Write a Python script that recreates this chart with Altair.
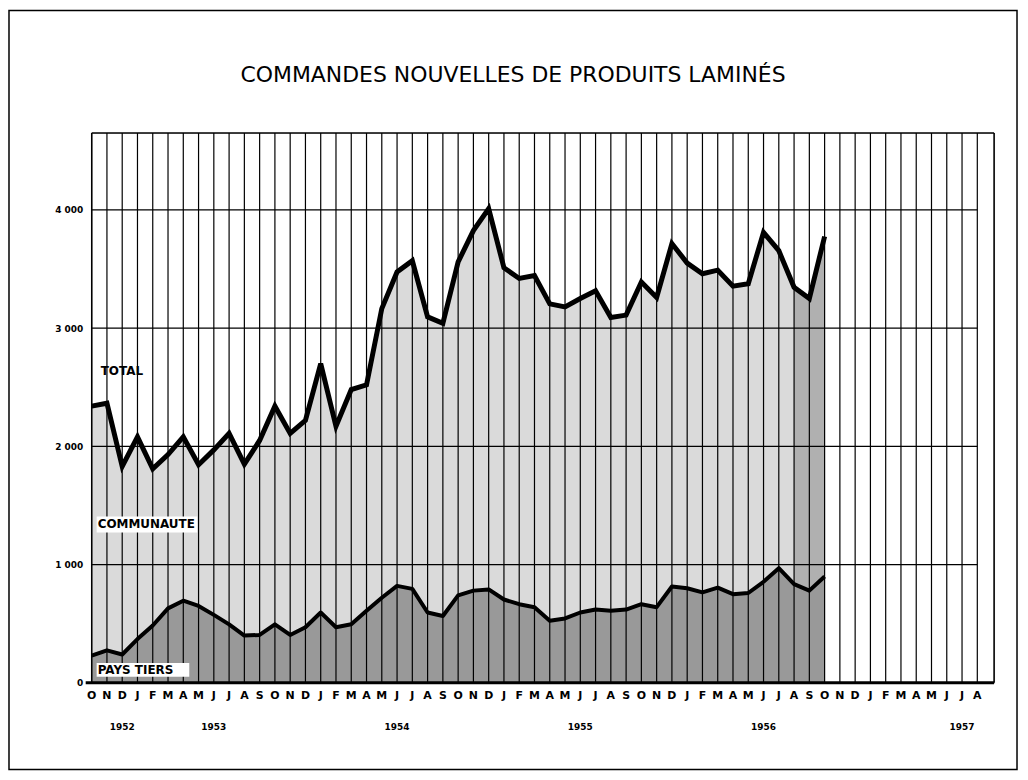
import altair as alt
import pandas as pd

# ---- data (thousands of tonnes) ----
MONTH_LETTERS = ["O", "N", "D",
                 "J", "F", "M", "A", "M", "J", "J", "A", "S", "O", "N", "D",
                 "J", "F", "M", "A", "M", "J", "J", "A", "S", "O", "N", "D",
                 "J", "F", "M", "A", "M", "J", "J", "A", "S", "O", "N", "D",
                 "J", "F", "M", "A", "M", "J", "J", "A", "S", "O", "N", "D",
                 "J", "F", "M", "A", "M", "J", "J", "A"]

TOTAL = [2340, 2365, 1830, 2080, 1810, 1930, 2080, 1845, 1970, 2110,
         1850, 2050, 2340, 2110, 2220, 2700, 2170, 2480, 2520, 3165,
         3475, 3570, 3095, 3040, 3560, 3825, 4010, 3510, 3420, 3445,
         3205, 3180, 3250, 3315, 3090, 3110, 3390, 3260, 3715, 3550,
         3460, 3490, 3355, 3375, 3810, 3655, 3345, 3250, 3775]

PAYS_TIERS = [230, 275, 240, 370, 485, 630, 695, 650, 575, 495,
              400, 405, 495, 405, 470, 595, 470, 495, 610, 720,
              820, 795, 595, 565, 740, 780, 790, 705, 665, 640,
              525, 545, 595, 620, 610, 620, 665, 640, 815, 800,
              765, 805, 750, 760, 855, 970, 835, 780, 900]

PROVISIONAL_FROM = 46          # Aug 1956 onwards: darker hatching
YEARS = ["1952", "1953", "1954", "1955", "1956", "1957"]
YEAR_POS = [2, 8, 20, 32, 44, 57]
Y_TICKS = [0, 1000, 2000, 3000, 4000]

TITLE = "COMMANDES NOUVELLES DE PRODUITS LAMINÉS"

# ---- layout ----
W, H = 906, 552
XMAX = 59.1
YMAX = 4650
FONT = "DejaVu Sans"

df = pd.DataFrame({"m": list(range(len(TOTAL))), "total": TOTAL, "tiers": PAYS_TIERS})
df_prov = df[df["m"] >= PROVISIONAL_FROM]
df_months = pd.DataFrame({"m": list(range(len(MONTH_LETTERS))), "lab": MONTH_LETTERS})
df_years = pd.DataFrame({"m": YEAR_POS, "lab": YEARS})
df_h = pd.DataFrame({"v": Y_TICKS[1:], "x0": 0, "x1": len(MONTH_LETTERS) - 1})

xs = alt.Scale(domain=[0, XMAX], nice=False, zero=False)
ys = alt.Scale(domain=[0, YMAX], nice=False)

X = alt.X("m:Q", scale=xs, axis=None)

area_total = alt.Chart(df).mark_area(color="#dadada", opacity=1).encode(
    x=X,
    y=alt.Y("total:Q", scale=ys, axis=alt.Axis(
        values=Y_TICKS, ticks=False, domain=False, grid=False, title=None,
        labelExpr="datum.value == 0 ? '0' : format(datum.value/1000, 'd') + ' 000'",
        labelFont=FONT, labelFontSize=9, labelFontWeight="bold", labelColor="black",
        labelPadding=9)),
)
area_prov = alt.Chart(df_prov).mark_area(color="#b0b0b0", opacity=1).encode(
    x=X, y=alt.Y("total:Q", scale=ys), y2="tiers:Q"
)
area_tiers = alt.Chart(df).mark_area(color="#999999", opacity=1).encode(
    x=X, y=alt.Y("tiers:Q", scale=ys)
)

vgrid = alt.Chart(df_months).mark_rule(color="black", strokeWidth=1.2).encode(
    x=X, y=alt.value(0), y2=alt.value(H)
)
hgrid = alt.Chart(df_h).mark_rule(color="black", strokeWidth=1.4).encode(
    x=alt.X("x0:Q", scale=xs, axis=None), x2="x1:Q", y=alt.Y("v:Q", scale=ys)
)

one = df.head(1)

def rule(x0, x1, y0, y1, sw):
    return alt.Chart(one).mark_rule(color="black", strokeWidth=sw).encode(
        x=alt.value(x0), x2=alt.value(x1), y=alt.value(y0), y2=alt.value(y1))

def box(x0, x1, y0, y1):
    return alt.Chart(one).mark_rect(color="white").encode(
        x=alt.value(x0), x2=alt.value(x1), y=alt.value(y0), y2=alt.value(y1))

def label(txt, x, y, size=12, weight="bold", align="left"):
    return alt.Chart(pd.DataFrame({"t": [txt]})).mark_text(
        font=FONT, fontSize=size, fontWeight=weight, align=align, baseline="middle",
        color="black").encode(text="t:N", x=alt.value(x), y=alt.value(y))

box_comm = box(5, 106, 385, 401)
box_tiers = box(5, 98, 532, 546)
lab_total = label("TOTAL", 9, 239)
lab_comm = label("COMMUNAUTE", 6, 393)
lab_tiers = label("PAYS TIERS", 6, 539)

line_total = alt.Chart(df).mark_line(color="black", strokeWidth=5, strokeJoin="miter").encode(
    x=X, y=alt.Y("total:Q", scale=ys)
)
line_tiers = alt.Chart(df).mark_line(color="black", strokeWidth=4, strokeJoin="round").encode(
    x=X, y=alt.Y("tiers:Q", scale=ys)
)

top = rule(0, W, 0, 0, 1.6)
left = rule(0, 0, 0, H, 1.4)
right = rule(W, W, 0, H, 1.6)
bottom = rule(-6, W, H, H, 3)

month_text = alt.Chart(df_months).mark_text(
    font=FONT, fontSize=11, fontWeight="bold", baseline="middle", color="black"
).encode(x=X, y=alt.value(H + 13), text="lab:N")
year_text = alt.Chart(df_years).mark_text(
    font=FONT, fontSize=9, fontWeight="bold", baseline="middle", color="black"
).encode(x=X, y=alt.value(H + 44), text="lab:N")

frame = alt.Chart(one).mark_rect(fill=None, stroke="black", strokeWidth=1.5).encode(
    x=alt.value(-83), x2=alt.value(929), y=alt.value(-123), y2=alt.value(639)
)
title = label(TITLE, W / 2 - 30, -58, size=22, weight="normal", align="center")

chart = alt.layer(
    area_total, area_prov, area_tiers, vgrid, hgrid,
    box_comm, box_tiers, lab_total, lab_comm, lab_tiers,
    line_tiers, line_total, top, left, right, bottom,
    month_text, year_text, frame, title
).properties(
    width=W, height=H,
    autosize=alt.AutoSizeParams(type="none"),
    padding={"left": 84, "top": 124, "right": 26, "bottom": 92},
).configure_view(stroke=None).configure(background="white")

chart.save("out.html", embed_options={"renderer": "svg", "actions": False})
